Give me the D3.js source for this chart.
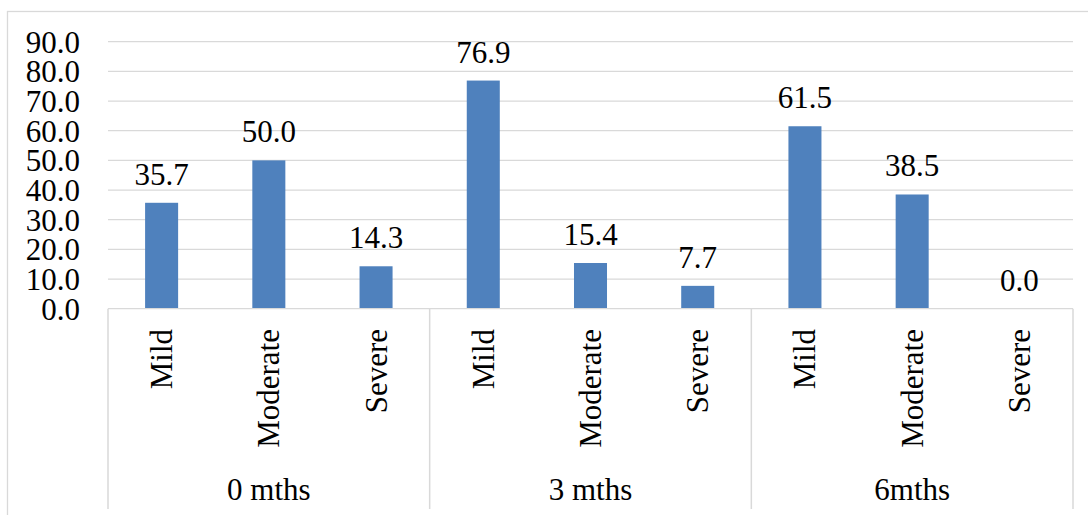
<!DOCTYPE html>
<html>
<head>
<meta charset="utf-8">
<script src="https://cdn.jsdelivr.net/npm/d3@7"></script>
<style>
  html, body { margin: 0; padding: 0; background: #fff; }
  svg { display: block; }
  text { font-family: "Liberation Serif", "Times New Roman", serif; fill: #000; }
</style>
</head>
<body>
<svg id="chart" width="1088" height="515"></svg>
<script>
// Severity distribution at each follow-up point (%)
const groups = ["0 mths", "3 mths", "6mths"];
const severities = ["Mild", "Moderate", "Severe"];
const values0 = [35.7, 50.0, 14.3];
const values3 = [76.9, 15.4, 7.7];
const values6 = [61.5, 38.5, 0.0];
const yTicks = [0, 10, 20, 30, 40, 50, 60, 70, 80, 90];

const seriesByGroup = [values0, values3, values6];
const rows = [];
groups.forEach((g, gi) => {
  severities.forEach((s, si) => {
    rows.push({ key: gi + "-" + si, group: g, gi, severity: s, value: seriesByGroup[gi][si] });
  });
});

const svg = d3.select("#chart");
const W = 1088, H = 515;
const plotLeft = 108, plotRight = 1073, plotTop = 41.7, plotBottom = 308.7;
const axisColor = "#d9d9d9";
const fontSize = 31;

// Chart frame
svg.append("rect")
  .attr("x", 7.5).attr("y", 11.5)
  .attr("width", W + 10).attr("height", H + 10)
  .attr("fill", "none").attr("stroke", axisColor).attr("stroke-width", 1.3);

const y = d3.scaleLinear().domain([0, 90]).range([plotBottom, plotTop]);
const p = 0.692;
const x = d3.scaleBand().domain(rows.map(d => d.key)).range([plotLeft, plotRight])
  .paddingInner(p).paddingOuter(p / 2);
const xg = d3.scaleBand().domain(groups).range([plotLeft, plotRight]).padding(0);

// Horizontal gridlines
svg.append("g").selectAll("line").data(yTicks.filter(t => t > 0)).join("line")
  .attr("x1", plotLeft).attr("x2", plotRight)
  .attr("y1", d => y(d)).attr("y2", d => y(d))
  .attr("stroke", axisColor).attr("stroke-width", 1.3);

// Y axis tick labels
const yAxis = d3.axisLeft(y).tickValues(yTicks).tickFormat(d3.format(".1f")).tickSize(0).tickPadding(0);
const ya = svg.append("g").attr("transform", "translate(80,0)").call(yAxis);
ya.select(".domain").remove();
ya.selectAll("text")
  .attr("font-size", fontSize).attr("font-family", "Liberation Serif, Times New Roman, serif")
  .attr("fill", "#000").attr("dy", "0.34em").attr("text-anchor", "end");

// Bars
svg.append("g").selectAll("rect").data(rows).join("rect")
  .attr("x", d => x(d.key)).attr("width", x.bandwidth())
  .attr("y", d => y(d.value)).attr("height", d => y(0) - y(d.value))
  .attr("fill", "#4f81bd");

// Value labels
svg.append("g").selectAll("text").data(rows).join("text")
  .attr("x", d => x(d.key) + x.bandwidth() / 2)
  .attr("y", d => y(d.value) - 18)
  .attr("text-anchor", "middle").attr("font-size", fontSize)
  .text(d => d3.format(".1f")(d.value));

// Category axis line
svg.append("line")
  .attr("x1", plotLeft).attr("x2", plotRight).attr("y1", plotBottom).attr("y2", plotBottom)
  .attr("stroke", axisColor).attr("stroke-width", 1.3);

// Group dividers
const dividers = groups.map(g => xg(g)).concat([plotRight]);
svg.append("g").selectAll("line").data(dividers).join("line")
  .attr("x1", d => d).attr("x2", d => d)
  .attr("y1", plotBottom).attr("y2", 509)
  .attr("stroke", axisColor).attr("stroke-width", 1.5);

// Severity labels (rotated)
svg.append("g").selectAll("text").data(rows).join("text")
  .attr("transform", d => `translate(${x(d.key) + x.bandwidth() / 2},329) rotate(-90)`)
  .attr("text-anchor", "end").attr("dy", "0.34em")
  .attr("font-size", fontSize)
  .text(d => d.severity);

// Group labels
svg.append("g").selectAll("text").data(groups).join("text")
  .attr("x", d => xg(d) + xg.bandwidth() / 2).attr("y", 500)
  .attr("text-anchor", "middle").attr("font-size", fontSize)
  .text(d => d);
</script>
</body>
</html>
